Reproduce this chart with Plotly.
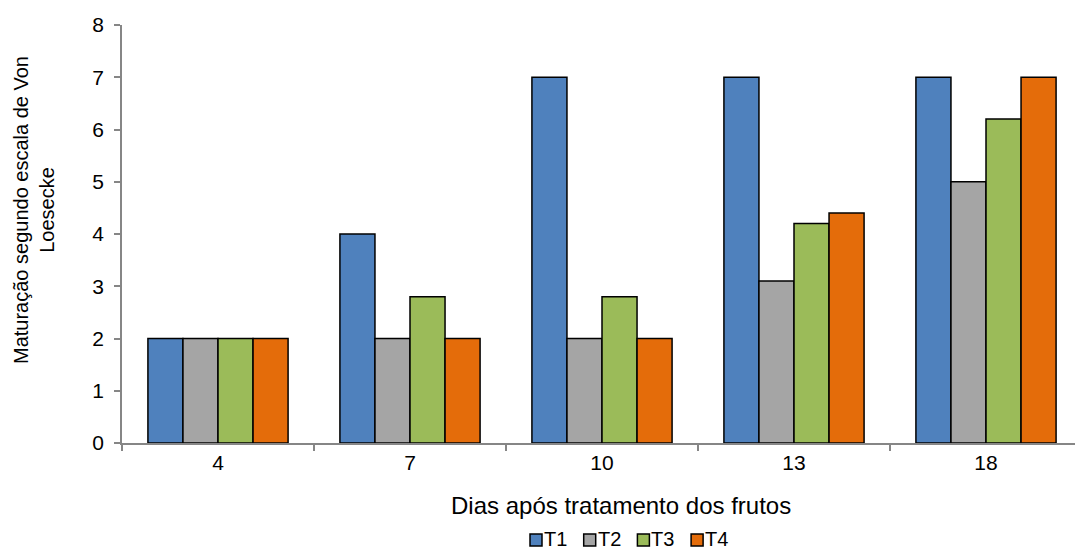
import plotly.graph_objects as go

# Days after treatment (category axis)
dias = ["4", "7", "10", "13", "18"]

# Ripening stage (Von Loesecke scale) per treatment
t1 = [2, 4, 7, 7, 7]
t2 = [2, 2, 2, 3.1, 5]
t3 = [2, 2.8, 2.8, 4.2, 6.2]
t4 = [2, 2, 2, 4.4, 7]

series_names = ["T1", "T2", "T3", "T4"]
series_values = [t1, t2, t3, t4]
series_colors = ["#4F81BD", "#A5A5A5", "#9BBB59", "#E46C0A"]

y_ticks = [0, 1, 2, 3, 4, 5, 6, 7, 8]

FONT = "Liberation Sans, Arial, sans-serif"
W, H = 1075, 552
L, R, T, B = 122, 0, 25, 109
PW, PH = W - L - R, H - T - B


def px_x(px):
    return (px - L) / PW


def px_y(py):
    return (H - B - py) / PH


fig = go.Figure()
for name, vals, col in zip(series_names, series_values, series_colors):
    fig.add_trace(go.Bar(
        x=dias, y=vals, name=name,
        marker=dict(color=col, line=dict(color="#000000", width=1.5)),
        showlegend=False,
    ))

# category spacing is ~192 px; the right end of the axis runs off the canvas
cat_px = 192.0
x_end = -0.5 + PW / cat_px

fig.update_layout(
    width=W, height=H,
    margin=dict(l=L, r=R, t=T, b=B, pad=0),
    paper_bgcolor="white", plot_bgcolor="white",
    barmode="group", bargap=0.27, bargroupgap=0,
    font=dict(family=FONT, size=20, color="#000000"),
    xaxis=dict(
        type="category", range=[-0.5, x_end],
        showline=True, linecolor="#868686", linewidth=1.5,
        ticks="outside", tickson="boundaries", ticklen=6,
        tickcolor="#868686", tickwidth=1.5,
        showgrid=False, zeroline=False,
        tickfont=dict(size=21),
    ),
    yaxis=dict(
        range=[0, 8], tickvals=y_ticks,
        showline=True, linecolor="#868686", linewidth=1.5,
        ticks="outside", ticklen=6, tickcolor="#868686", tickwidth=1.5,
        showgrid=False, zeroline=False,
        ticklabelstandoff=6,
        tickfont=dict(size=21),
    ),
)

# x axis title
fig.add_annotation(
    xref="paper", yref="paper", x=px_x(621), y=px_y(505),
    text="Dias após tratamento dos frutos",
    showarrow=False, xanchor="center", yanchor="middle",
    font=dict(size=24, family=FONT),
)

# rotated two-line y title
fig.add_annotation(
    xref="paper", yref="paper", x=px_x(34), y=px_y(210),
    text="Maturação segundo escala de Von<br>Loesecke",
    textangle=-90, showarrow=False, xanchor="center", yanchor="middle",
    font=dict(size=20, family=FONT),
)

# legend row drawn beneath the axis title
leg_x0, leg_pitch, sq = 530, 53.7, 12
leg_yc = 540
for i, (name, col) in enumerate(zip(series_names, series_colors)):
    x0 = leg_x0 + i * leg_pitch
    fig.add_shape(
        type="rect", xref="paper", yref="paper",
        x0=px_x(x0), x1=px_x(x0 + sq),
        y0=px_y(leg_yc + sq / 2), y1=px_y(leg_yc - sq / 2),
        fillcolor=col, line=dict(color="#000000", width=1.5),
    )
    fig.add_annotation(
        xref="paper", yref="paper", x=px_x(x0 + sq + 1), y=px_y(551),
        text=name, showarrow=False, xanchor="left", yanchor="bottom",
        borderpad=0,
        font=dict(size=20, family=FONT),
    )

fig.write_html("out.html")
